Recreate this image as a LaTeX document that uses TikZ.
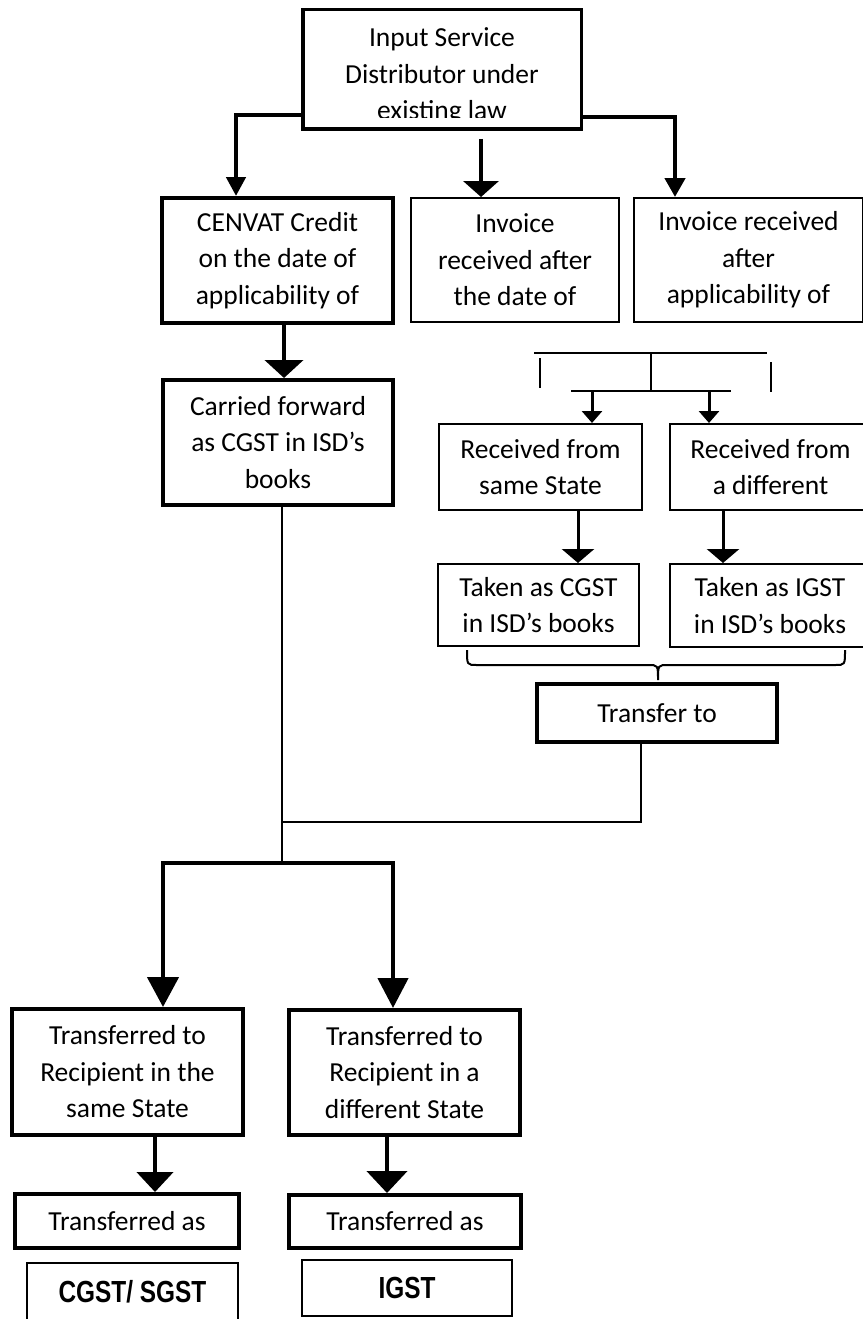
\documentclass[tikz,border=0pt]{standalone}
\usepackage{fontspec}
\setmainfont{Carlito}
\newfontfamily\gstfont[FakeStretch=0.8]{Liberation Sans}
\usetikzlibrary{arrows.meta}
\tikzset{
	box/.style={draw, line width=2pt, inner sep=0pt, align=center, font=\fontsize{27.5}{36.5}\selectfont},
	boxthick/.style={box, line width=4pt},
	gstbox/.style={draw, line width=2pt, inner sep=0pt, font=\gstfont\bfseries\fontsize{30.5}{36}\selectfont},
	link/.style={line width=2pt},
	flow/.style 2 args={line width=4.5pt, -{Triangle[width=#1, length=#2]}},
	fine/.style 2 args={line width=3pt, -{Triangle[width=#1, length=#2]}},
}
\begin{document}
\begin{tikzpicture}[x=1pt,y=-1pt]
	\useasboundingbox (0,0) rectangle (862,1319);
	% top box, its last line is cut off
	\node[draw, line width=3.5pt, minimum width=278.5pt, minimum height=119.5pt] (isd) at (442,69.5) {};
	\begin{scope}
		\clip (305,12) rectangle (579,118);
		\node[box, draw=none] (isdtext) at (442,76) {Input Service\\Distributor under\\existing law};
	\end{scope}
	\node[boxthick, minimum width=231pt, minimum height=125pt] (cenvat) at (277.5,260.5) {CENVAT Credit\\on the date of\\applicability of};
	\node[box, minimum width=208pt, minimum height=124pt] (after) at (515,260) {Invoice\\received after\\the date of};
	\node[box, minimum width=229pt, minimum height=124pt] (applic) at (748.5,260) {Invoice received\\after\\applicability of};
	\node[boxthick, minimum width=230pt, minimum height=125pt] (carried) at (278,442.5) {Carried forward\\as CGST in ISD’s\\books};
	\node[box, minimum width=203pt, minimum height=86pt] (same) at (540.5,467) {Received from\\same State};
	\node[box, minimum width=201pt, minimum height=86pt] (diff) at (770.5,467) {Received from\\a different};
	\node[box, minimum width=201pt, minimum height=82pt] (cgst) at (538.5,605) {Taken as CGST\\in ISD’s books};
	\node[box, minimum width=200pt, minimum height=83pt] (igst) at (770,605.5) {Taken as IGST\\in ISD’s books};
	\node[boxthick, minimum width=240pt, minimum height=58pt] (transfer) at (657,713) {Transfer to};
	\node[boxthick, minimum width=231pt, minimum height=126pt] (samest) at (127.5,1072) {Transferred to\\Recipient in the\\same State};
	\node[boxthick, minimum width=231pt, minimum height=125pt] (diffst) at (404.5,1072.5) {Transferred to\\Recipient in a\\different State};
	\node[boxthick, minimum width=224pt, minimum height=54pt] (asone) at (127,1221) {Transferred as};
	\node[boxthick, minimum width=232pt, minimum height=53pt] (astwo) at (405,1221.5) {Transferred as};
	\node[gstbox, minimum width=211pt, minimum height=58pt] (cgstsgst) at (132.5,1292) {CGST/ SGST};
	\node[gstbox, minimum width=210pt, minimum height=56pt] (igstbox) at (407,1288) {IGST};
	% from the top box
	\draw[flow={19pt}{19pt}] ([yshift=-45.5pt]isd.west) -| ([xshift=-41.5pt]cenvat.north);
	\draw[flow={35pt}{16pt}] ([xshift=39pt,yshift=-7.75pt]isd.south) -- ([xshift=-34pt]after.north);
	\draw[flow={20pt}{19pt}] ([yshift=-47.5pt]isd.east) -| ([xshift=-73.5pt]applic.north);
	\draw[flow={38pt}{18pt}] ([xshift=6.5pt]cenvat.south) -- ([xshift=6.5pt]cenvat.south |- carried.north);
	% bracket over the received boxes
	\coordinate (barL) at (534,353);
	\coordinate (barR) at (767,353);
	\coordinate (barM) at (651,353);
	\coordinate (forkM) at (651,391);
	\draw[link] (barL) -- (barR);
	\draw[link] (540,358) -- (540,388);
	\draw[link] (771,362) -- (771,392);
	\draw[link] (barM) -- (forkM);
	\draw[link] (571,391) -- (731,391);
	\draw[fine={20pt}{12pt}] ([xshift=51.5pt]same.north |- forkM) -- ([xshift=51.5pt]same.north);
	\draw[fine={20pt}{12pt}] ([xshift=-61.5pt]diff.north |- forkM) -- ([xshift=-61.5pt]diff.north);
	\draw[fine={32pt}{14pt}] ([xshift=37.5pt]same.south) -- ([xshift=37.5pt]same.south |- cgst.north);
	\draw[fine={32pt}{14pt}] ([xshift=-47.5pt]diff.south) -- ([xshift=-47.5pt]diff.south |- igst.north);
	% brace
	\draw[link] (467,650) .. controls (467,665) .. (477,665) -- (648,665) .. controls (658,665) .. (658,680)
		.. controls (658,665) .. (668,665) -- (835,665) .. controls (845,665) .. (845,650);
	% lines into the lower fork
	\coordinate (join) at (282,822);
	\coordinate (fork) at (282,863);
	\draw[link] ([xshift=4pt]carried.south) -- (fork);
	\draw[link] ([xshift=-16pt]transfer.south) |- (join);
	\draw[flow={31pt}{30pt}] (fork) -| ([xshift=35.5pt]samest.north);
	\draw[flow={30pt}{30pt}] (fork) -| ([xshift=-11.5pt]diffst.north);
	\draw[flow={36pt}{20pt}] ([xshift=27.5pt]samest.south) -- ([xshift=27.5pt]samest.south |- asone.north);
	\draw[flow={40pt}{22pt}] ([xshift=-17.5pt]diffst.south) -- ([xshift=-17.5pt]diffst.south |- astwo.north);
\end{tikzpicture}
\end{document}
